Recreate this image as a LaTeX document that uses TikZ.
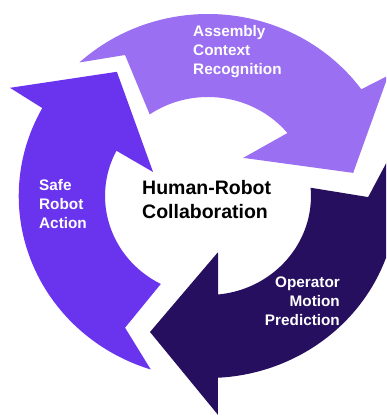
\documentclass[tikz,border=0pt]{standalone}
\usepackage{fontspec}
\setmainfont{Liberation Sans}
\definecolor{lightp}{HTML}{9B6FF1}
\definecolor{midp}{HTML}{6A34EF}
\definecolor{darkp}{HTML}{270F60}
\begin{document}
\begin{tikzpicture}[x=1pt,y=1pt,
  arrowshape/.style={shift={(208,221)},xscale=1.04},
  steplabel/.style={text=white,font=\bfseries\fontsize{15.3}{19}\selectfont,inner sep=0pt},
  centerlabel/.style={text=black,font=\bfseries\fontsize{19.5}{24}\selectfont,inner sep=0pt,align=left}]
\useasboundingbox (0,0) rectangle (386,417);
\clip (0,0) rectangle (386,417);
% Safe Robot Action (left, medium purple)
\fill[arrowshape,midp]
  (252.4:182) arc[start angle=252.4,end angle=151.1,radius=182]
  -- (150.4:219) -- (125.2:152) -- (155.6:58) -- (152.8:99)
  arc[start angle=152.8,end angle=242.7,radius=99]
  -- (238.8:154) -- cycle;
% Assembly Context Recognition (top, light purple)
\fill[arrowshape,lightp]
  (132.8:182) arc[start angle=132.8,end angle=35.9,radius=182]
  -- (34.8:211) -- (9.4:141.5) -- (48.4:51) -- (39.5:99)
  arc[start angle=39.5,end angle=124.5,radius=99]
  -- (119.5:162) -- cycle;
% Operator Motion Prediction (bottom right, dark purple)
\fill[arrowshape,darkp]
  (13.8:182) arc[start angle=13.8,end angle=-87,radius=182]
  -- (-87.5:219) -- (247.7:147) -- (-80.3:57) -- (-84.3:99)
  arc[start angle=-84.3,end angle=4.8,radius=99]
  -- (-0.4:154) -- cycle;
% labels
\node[steplabel,align=left,anchor=west] (acr) at (193,365) {Assembly\\Context\\Recognition};
\node[steplabel,align=left,anchor=west] (sra) at (39,213) {Safe\\Robot\\Action};
\node[steplabel,align=right,anchor=east] (omp) at (340,116) {Operator\\Motion\\Prediction};
\node[centerlabel,anchor=west] (hrc) at (142,217) {Human-Robot\\Collaboration};
\end{tikzpicture}
\end{document}
